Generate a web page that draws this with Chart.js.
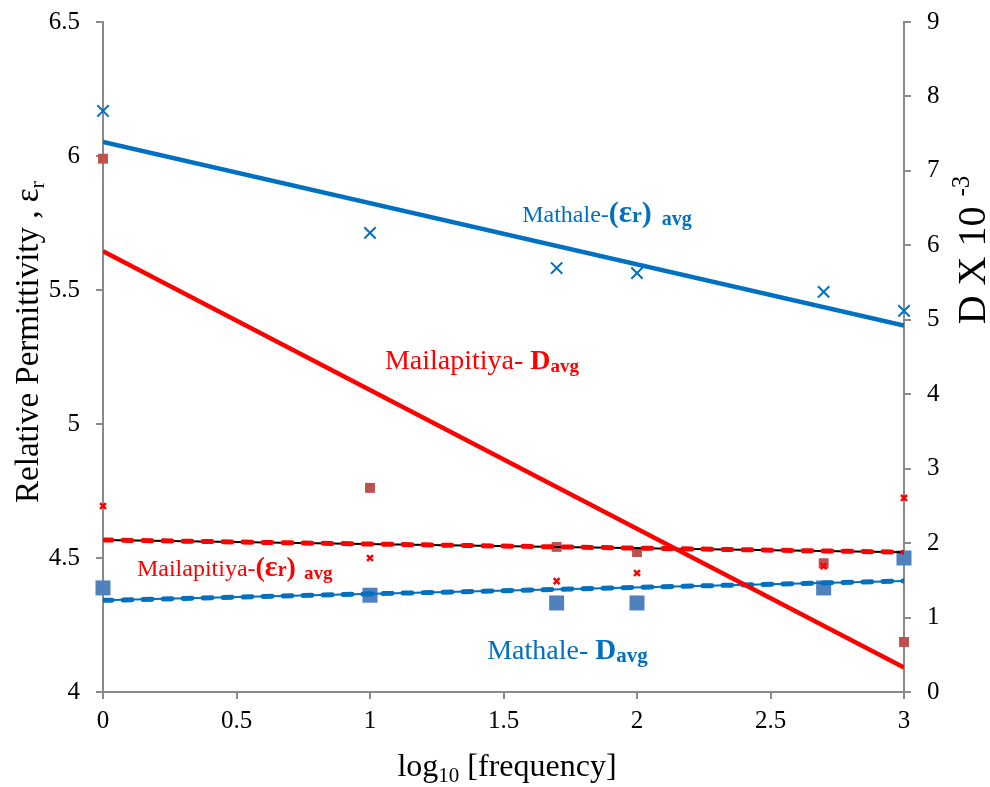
<!DOCTYPE html>
<html>
<head>
<meta charset="utf-8">
<script src="https://cdn.jsdelivr.net/npm/chart.js@4.4.1/dist/chart.umd.min.js"></script>
<style>
  html, body { margin: 0; padding: 0; background: #ffffff; }
  #wrap { width: 990px; height: 787px; }
</style>
</head>
<body>
<div id="wrap"><canvas id="c" width="990" height="787"></canvas></div>
<script>
// log10 of the measurement frequencies (1, 10, 50, 100, 500, 1000)
const logFreq = [0, 1, 1.699, 2, 2.699, 3];

// Relative permittivity (left axis)
const mathaleEr     = [6.168, 5.713, 5.582, 5.563, 5.493, 5.422];
const mailapitiyaEr = [4.694, 4.500, 4.414, 4.444, 4.470, 4.724];

// Dissipation factor D x 10^-3 (right axis)
const mathaleD      = [1.398, 1.300, 1.196, 1.196, 1.398, 1.800];
const mailapitiyaD  = [7.164, 2.742, 1.949, 1.880, 1.730, 0.672];

// Tick labels
const xTicks     = [0, 0.5, 1, 1.5, 2, 2.5, 3];
const leftTicks  = [4, 4.5, 5, 5.5, 6, 6.5];
const rightTicks = [0, 1, 2, 3, 4, 5, 6, 7, 8, 9];

const BLUE = '#0070C0';
const RED = '#FF0000';
const AXIS = '#8a8a8a';
const SERIF = "'Liberation Serif', 'Times New Roman', serif";

const pts = ys => logFreq.map((x, i) => ({ x, y: ys[i] }));

// least-squares linear trend over the full x range
function trend(ys) {
  const n = ys.length;
  const mx = logFreq.reduce((a, b) => a + b, 0) / n;
  const my = ys.reduce((a, b) => a + b, 0) / n;
  let sxy = 0, sxx = 0;
  logFreq.forEach((x, i) => { sxy += (x - mx) * (ys[i] - my); sxx += (x - mx) * (x - mx); });
  const b = sxy / sxx, a = my - b * mx;
  const x0 = xTicks[0], x1 = xTicks[xTicks.length - 1];
  return [{ x: x0, y: a + b * x0 }, { x: x1, y: a + b * x1 }];
}

function fontOf(s) {
  return (s.b ? 'bold ' : '') + s.size + 'px ' + SERIF;
}

// draws a run of text pieces with their own size, weight, extra gap and baseline shift
function drawRich(ctx, segs, x, y, align) {
  let w = 0;
  segs.forEach(s => {
    ctx.font = fontOf(s);
    s.w = ctx.measureText(s.t).width;
    w += s.w + (s.gap || 0);
  });
  let cx = align === 'center' ? x - w / 2 : x;
  segs.forEach(s => {
    cx += s.gap || 0;
    ctx.font = fontOf(s);
    ctx.fillText(s.t, cx, y + (s.dy || 0));
    cx += s.w;
  });
}

// axis titles and in-plot series labels
const labelsPlugin = {
  id: 'labels',
  afterDraw(chart) {
    const ctx = chart.ctx;
    const xs = chart.scales.x, yl = chart.scales.yL, yr = chart.scales.yR;
    ctx.save();
    ctx.textBaseline = 'alphabetic';
    ctx.textAlign = 'left';

    // left axis title
    ctx.fillStyle = '#000';
    ctx.save();
    ctx.translate(38, 342);
    ctx.rotate(-Math.PI / 2);
    drawRich(ctx, [
      { t: 'Relative Permittivity , \u03B5', size: 33 },
      { t: 'r', size: 22, dy: 6 }
    ], 0, 0, 'center');
    ctx.restore();

    // right axis title
    ctx.save();
    ctx.translate(985, 250);
    ctx.rotate(-Math.PI / 2);
    drawRich(ctx, [
      { t: 'D X 10 ', size: 40 },
      { t: '-3', size: 25, dy: -16 }
    ], 0, 0, 'center');
    ctx.restore();

    // bottom axis title
    drawRich(ctx, [
      { t: 'log', size: 32 },
      { t: '10', size: 21, dy: 6 },
      { t: ' [frequency]', size: 32 }
    ], 507, 776, 'center');

    // series labels, anchored in data coordinates
    ctx.fillStyle = BLUE;
    drawRich(ctx, [
      { t: 'Mathale-', size: 24 },
      { t: '(', size: 30, b: true },
      { t: '\u03B5', size: 31, b: true },
      { t: 'r', size: 22, b: true },
      { t: ')', size: 30, b: true },
      { t: 'avg', size: 20, b: true, dy: 3, gap: 10 }
    ], xs.getPixelForValue(1.57), yl.getPixelForValue(5.754), 'left');

    drawRich(ctx, [
      { t: 'Mathale- ', size: 28 },
      { t: 'D', size: 29, b: true },
      { t: 'avg', size: 21, b: true, dy: 3 }
    ], xs.getPixelForValue(1.439), yr.getPixelForValue(0.444), 'left');

    ctx.fillStyle = RED;
    drawRich(ctx, [
      { t: 'Mailapitiya- ', size: 28 },
      { t: 'D', size: 28, b: true },
      { t: 'avg', size: 19, b: true, dy: 3 }
    ], xs.getPixelForValue(1.056), yr.getPixelForValue(4.342), 'left');

    drawRich(ctx, [
      { t: 'Mailapitiya-', size: 24 },
      { t: '(', size: 28, b: true },
      { t: '\u03B5', size: 30, b: true },
      { t: 'r', size: 20, b: true },
      { t: ')', size: 28, b: true },
      { t: 'avg', size: 19, b: true, dy: 3, gap: 8 }
    ], xs.getPixelForValue(0.127), yl.getPixelForValue(4.432), 'left');

    ctx.restore();
  }
};

const gridOpts = {
  drawOnChartArea: false,
  drawTicks: true,
  tickLength: 7,
  color: AXIS,
  lineWidth: 2
};
const borderOpts = { display: true, color: AXIS, width: 2 };
const tickFont = { family: SERIF, size: 25 };
const plain = v => String(v);

new Chart(document.getElementById('c'), {
  type: 'scatter',
  data: {
    datasets: [
      // trend lines (drawn above markers)
      { label: 'Mathale εr trend', data: trend(mathaleEr), yAxisID: 'yL', showLine: true,
        borderColor: BLUE, borderWidth: 4.5, pointRadius: 0, order: 0 },
      { label: 'Mailapitiya D trend', data: trend(mailapitiyaD), yAxisID: 'yR', showLine: true,
        borderColor: RED, borderWidth: 4.5, pointRadius: 0, order: 0 },
      { label: 'Mailapitiya εr dashed', data: trend(mailapitiyaEr), yAxisID: 'yL', showLine: true,
        borderColor: RED, borderWidth: 5, borderDash: [9, 11], borderCapStyle: 'round',
        pointRadius: 0, order: 0 },
      { label: 'Mailapitiya εr base', data: trend(mailapitiyaEr), yAxisID: 'yL', showLine: true,
        borderColor: '#000000', borderWidth: 2, pointRadius: 0, order: 1 },
      { label: 'Mathale D dashed', data: trend(mathaleD), yAxisID: 'yR', showLine: true,
        borderColor: BLUE, borderWidth: 5, borderDash: [9, 11], borderCapStyle: 'round',
        pointRadius: 0, order: 0 },
      { label: 'Mathale D base', data: trend(mathaleD), yAxisID: 'yR', showLine: true,
        borderColor: BLUE, borderWidth: 2, pointRadius: 0, order: 1 },

      // measured points
      { label: 'Mathale εr', data: pts(mathaleEr), yAxisID: 'yL', pointStyle: 'crossRot',
        pointRadius: 8, borderColor: BLUE, borderWidth: 2, order: 2, clip: false },
      { label: 'Mailapitiya εr', data: pts(mailapitiyaEr), yAxisID: 'yL', pointStyle: 'crossRot',
        pointRadius: 4.2, borderColor: RED, borderWidth: 2.5, order: 2, clip: false },
      { label: 'Mathale D', data: pts(mathaleD), yAxisID: 'yR', pointStyle: 'rect',
        pointRadius: 10.6, backgroundColor: '#4F81BD', borderColor: '#4F81BD', borderWidth: 0,
        order: 3, clip: false },
      { label: 'Mailapitiya D', data: pts(mailapitiyaD), yAxisID: 'yR', pointStyle: 'rect',
        pointRadius: 7, backgroundColor: '#C0504D', borderColor: '#C0504D', borderWidth: 0,
        order: 3, clip: false }
    ]
  },
  options: {
    responsive: false,
    devicePixelRatio: 1,
    animation: false,
    layout: { padding: { top: 22, left: 0, right: 0, bottom: 0 } },
    plugins: { legend: { display: false }, tooltip: { enabled: false } },
    scales: {
      x: {
        type: 'linear',
        min: xTicks[0], max: xTicks[xTicks.length - 1],
        afterBuildTicks: s => { s.ticks = xTicks.map(v => ({ value: v })); },
        afterFit: s => { s.height = 95; s.paddingLeft = 0; s.paddingRight = 0; },
        grid: gridOpts,
        border: borderOpts,
        ticks: { color: '#000', font: tickFont, padding: 7, maxRotation: 0, autoSkip: false, callback: plain }
      },
      yL: {
        type: 'linear', position: 'left',
        min: leftTicks[0], max: leftTicks[leftTicks.length - 1],
        afterBuildTicks: s => { s.ticks = leftTicks.map(v => ({ value: v })); },
        afterFit: s => { s.width = 103; s.paddingTop = 0; s.paddingBottom = 0; },
        grid: gridOpts,
        border: borderOpts,
        ticks: { color: '#000', font: tickFont, padding: 16, autoSkip: false, callback: plain }
      },
      yR: {
        type: 'linear', position: 'right',
        min: rightTicks[0], max: rightTicks[rightTicks.length - 1],
        afterBuildTicks: s => { s.ticks = rightTicks.map(v => ({ value: v })); },
        afterFit: s => { s.width = 86; s.paddingTop = 0; s.paddingBottom = 0; },
        grid: gridOpts,
        border: borderOpts,
        ticks: { color: '#000', font: tickFont, padding: 16, autoSkip: false, callback: plain }
      }
    }
  },
  plugins: [labelsPlugin]
});
</script>
</body>
</html>
